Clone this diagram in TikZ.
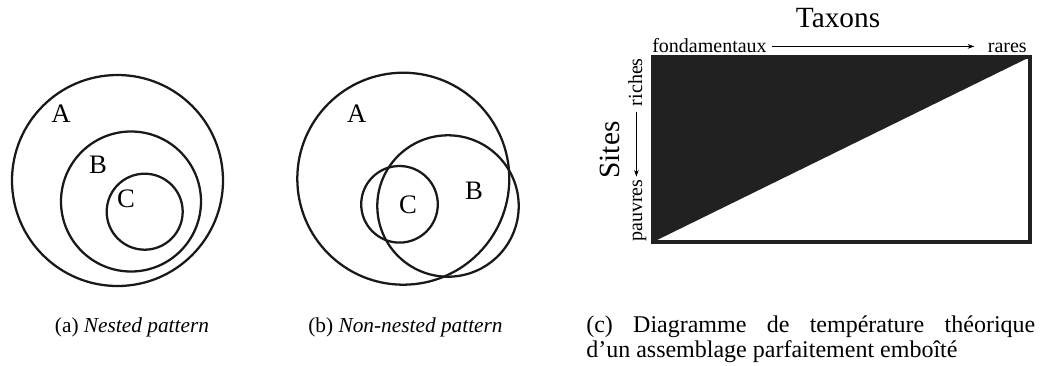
\documentclass[tikz,border=0pt]{standalone}
\usepackage{fontspec}
\setmainfont{Liberation Serif}
\usetikzlibrary{arrows.meta}
\begin{document}
\begin{tikzpicture}[x=0.75pt,y=-0.75pt,
  circ/.style={draw=black!90,line width=1.7pt},
  lbl/.style={font=\fontsize{20}{24}\selectfont,inner sep=0pt},
  axis/.style={font=\fontsize{15}{18}\selectfont,inner sep=0pt},
  captxt/.style={font=\fontsize{16}{19}\selectfont,inner sep=0pt,anchor=base},
  arr/.style={-{Stealth[length=5pt,width=3.5pt]},line width=0.5pt}]
\useasboundingbox (0,0) rectangle (1046,365);
% (a)
\draw[circ] (117.5,180.5) circle[radius=105.5];
\draw[circ] (131,201.5) circle[radius=70];
\draw[circ] (144.7,211.7) circle[radius=38];
\node[lbl] (la) at (61,114) {A};
\node[lbl] (lb) at (98,165) {B};
\node[lbl] (lc) at (126,199) {C};
% (b)
\draw[circ] (403.3,178.7) circle[radius=106];
\draw[circ] (448,206) circle[radius=70.7];
\draw[circ] (399.5,204.3) circle[radius=38.3];
\node[lbl] (lA) at (356.7,114) {A};
\node[lbl] (lB) at (474,191) {B};
\node[lbl] (lC) at (408,205) {C};
% (c)
\fill[black!87] (653,57) -- (1030,57) -- (653,242) -- cycle;
\draw[line width=2.4pt,black!87] (653,57) rectangle (1030,242);
\node[font=\fontsize{22}{26}\selectfont,inner sep=0pt] (tax) at (838,18) {Taxons};
\node[axis,anchor=base west] (fond) at (652,52) {fondamentaux};
\node[axis,anchor=base east] (rares) at (1027,52) {rares};
\draw[arr] ([xshift=3.75pt,yshift=4.2pt]fond.base east) -- ([xshift=-10pt,yshift=4.2pt]rares.base west);
\node[font=\fontsize{22}{26}\selectfont,inner sep=0pt,rotate=90] (sites) at (610,150) {Sites};
\node[axis,rotate=90,anchor=base east] (riches) at (642,58) {riches};
\node[axis,rotate=90,anchor=base west] (pauvres) at (642,242) {pauvres};
\draw[arr] ([yshift=-4pt,xshift=-4.2pt]riches.base west) -- ([yshift=2pt,xshift=-4.2pt]pauvres.base east);
% captions
\node[captxt] (ca) at (132,332) {(a) \textit{Nested pattern}};
\node[captxt] (cb) at (405.5,332) {(b) \textit{Non-nested pattern}};
\node[captxt,font=\fontsize{18}{18.75}\selectfont,anchor=base west,align=left] (cc) at (586,357) {\makebox[336.75pt][s]{(c) Diagramme de température théorique}\\d’un assemblage parfaitement emboîté};
\end{tikzpicture}
\end{document}
